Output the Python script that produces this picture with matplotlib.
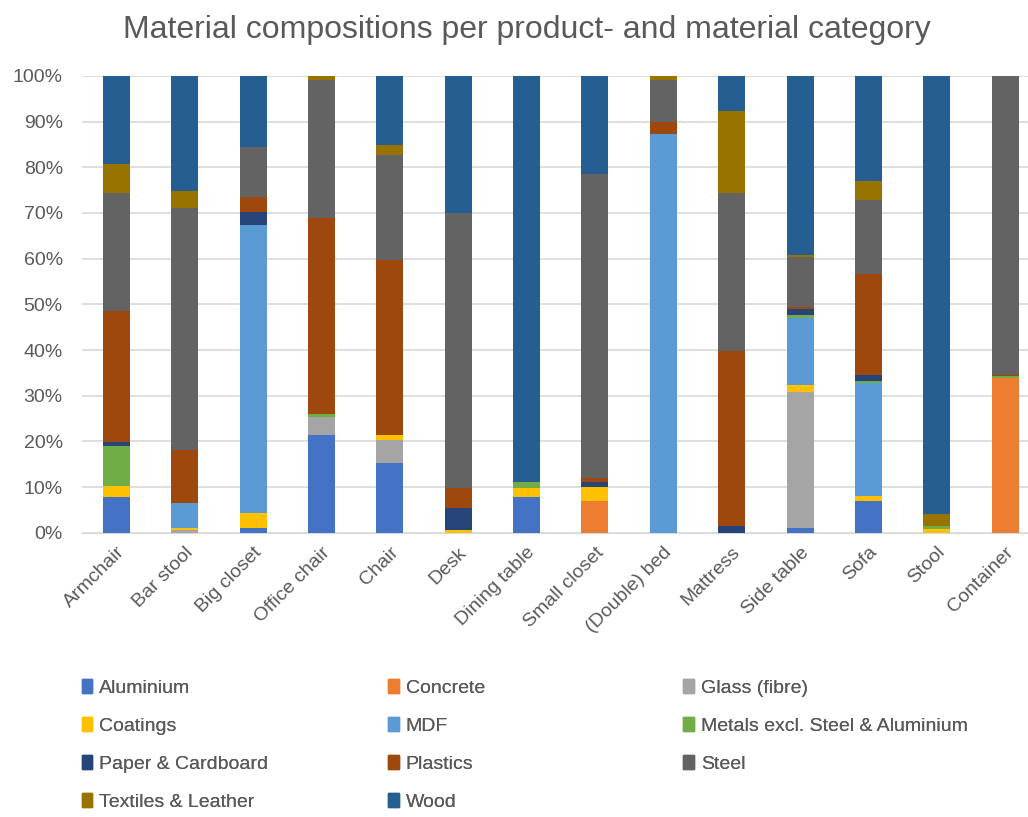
import matplotlib
matplotlib.use("Agg")
import matplotlib.pyplot as plt
import numpy as np
from matplotlib.patches import Patch
from matplotlib.ticker import PercentFormatter

plt.rcParams['font.family'] = ['Liberation Sans', 'DejaVu Sans']

products = ['Armchair', 'Bar stool', 'Big closet', 'Office chair', 'Chair', 'Desk',
            'Dining table', 'Small closet', '(Double) bed', 'Mattress', 'Side table',
            'Sofa', 'Stool', 'Container']

materials = ['Aluminium', 'Concrete', 'Glass (fibre)', 'Coatings', 'MDF',
             'Metals excl. Steel & Aluminium', 'Paper & Cardboard', 'Plastics',
             'Steel', 'Textiles & Leather', 'Wood']

# shares in % per product
aluminium = [7.9, 0, 1.0, 21.3, 15.3, 0, 7.9, 0, 0, 0, 1.0, 6.9, 0, 0]
concrete = [0, 0, 0, 0, 0, 0, 0, 7.0, 0, 0, 0, 0, 0, 33.8]
glass = [0, 0.5, 0, 4.1, 5.0, 0, 0, 0, 0, 0, 29.9, 0, 0, 0]
coatings = [2.3, 0.5, 3.3, 0, 1.0, 0.6, 1.8, 3.1, 0, 0, 1.5, 1.1, 0.9, 0]
mdf = [0, 5.5, 63.2, 0, 0, 0, 0, 0, 87.2, 0, 14.7, 24.8, 0, 0]
metals = [8.8, 0, 0, 0.6, 0, 0, 1.5, 0, 0, 0, 0.5, 0.5, 0.6, 0.4]
paper = [0.9, 0, 2.7, 0, 0, 4.9, 0, 1.0, 0, 1.5, 1.3, 1.3, 0, 0]
plastics = [28.6, 11.7, 3.3, 42.8, 38.3, 4.3, 0, 0.9, 2.7, 38.3, 0.5, 22.1, 0, 0.4]
steel = [25.8, 53.0, 11.0, 30.4, 23.0, 60.3, 0, 66.5, 9.3, 34.5, 11.0, 16.2, 0, 65.4]
textiles = [6.4, 3.7, 0, 0.8, 2.3, 0, 0, 0, 0.8, 18.0, 0.5, 4.1, 2.7, 0]
wood = [19.3, 25.2, 15.6, 0, 15.1, 29.9, 88.8, 21.5, 0, 7.7, 39.1, 23.0, 95.8, 0]

colors = ['#4472C4', '#ED7D31', '#A5A5A5', '#FFC000', '#5B9BD5', '#70AD47',
          '#264478', '#9E480E', '#636363', '#997300', '#255E91']

series = [aluminium, concrete, glass, coatings, mdf, metals, paper, plastics,
          steel, textiles, wood]

data = np.array(series, dtype=float)
data = data / data.sum(axis=0) * 100  # 100% stacked

fig = plt.figure(figsize=(10.28, 8.17), dpi=100)
ax = fig.add_axes([0.080, 0.348, 0.931, 0.559])

x = np.arange(len(products))
bottom = np.zeros(len(products))
for vals, col, name in zip(data, colors, materials):
    ax.bar(x, vals, 0.395, bottom=bottom, color=col, label=name, zorder=3)
    bottom += vals

ax.set_xlim(-0.5, len(products) - 0.5)
ax.set_ylim(0, 100)
ax.set_yticks(np.arange(0, 101, 10))
ax.yaxis.set_major_formatter(PercentFormatter(decimals=0))
ax.grid(axis='y', color='#D9D9D9', linewidth=1.2, zorder=0)
for s in ['top', 'right', 'left']:
    ax.spines[s].set_visible(False)
ax.spines['bottom'].set_color('#D9D9D9')
ax.tick_params(axis='both', length=0, colors='#595959', labelsize=14)
ax.tick_params(axis='y', pad=14)
ax.tick_params(axis='x', pad=8)
ax.set_xticks(x)
ax.set_xticklabels(products, rotation=45, ha='right', rotation_mode='anchor')

fig.text(0.513, 0.963, 'Material compositions per product- and material category',
         ha='center', va='center', fontsize=23, color='#595959')

# legend: three columns, filled row by row as in the original
handles = [Patch(color=c) for c in colors]
col_x = [0.072, 0.370, 0.657]
for k in range(3):
    idx = list(range(k, len(materials), 3))
    leg = fig.legend([handles[i] for i in idx], [materials[i] for i in idx],
                     loc='upper left', bbox_to_anchor=(col_x[k], 0.178),
                     frameon=False, fontsize=14, labelcolor='#595959',
                     handlelength=0.55, handleheight=0.7, handletextpad=0.35,
                     labelspacing=1.05, borderaxespad=0)
    fig.add_artist(leg)

fig.savefig('out.png', dpi=100)
